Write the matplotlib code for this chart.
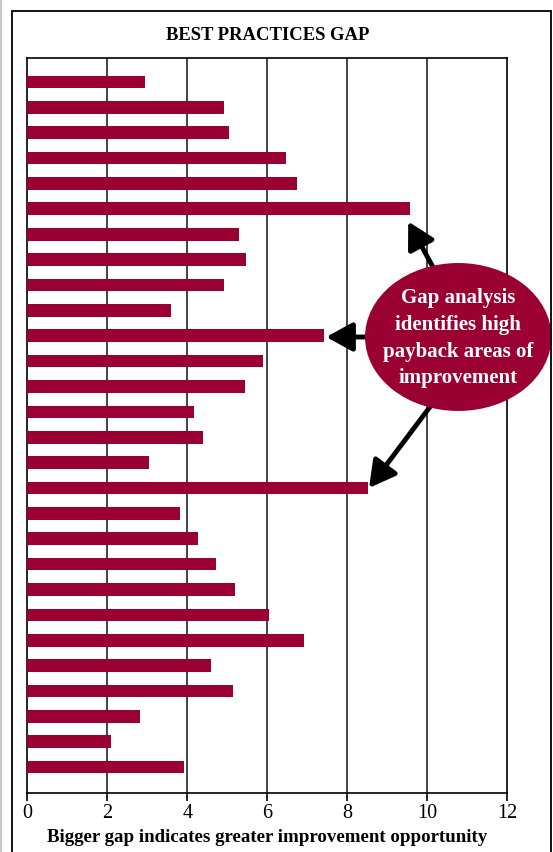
import matplotlib.pyplot as plt
from matplotlib.patches import Ellipse, Rectangle
from matplotlib.lines import Line2D

plt.rcParams['font.family'] = ['Liberation Serif', 'DejaVu Serif']

# gap values, top bar first
gaps = [2.95, 4.91, 5.05, 6.46, 6.73, 9.57, 5.29, 5.46, 4.91, 3.59,
        7.42, 5.88, 5.44, 4.17, 4.39, 3.05, 8.52, 3.81, 4.27, 4.72,
        5.18, 6.03, 6.92, 4.60, 5.13, 2.82, 2.09, 3.92]
xticks = [0, 2, 4, 6, 8, 10, 12]
title = 'BEST PRACTICES GAP'
xlabel = 'Bigger gap indicates greater improvement opportunity'
callout = 'Gap analysis\nidentifies high\npayback areas of\nimprovement'
bar_color = '#9B0032'

fig = plt.figure(figsize=(5.53, 8.52), dpi=100)
W, H = 553, 852

# outer frame of the figure
fig.patches.append(Rectangle((12.4 / W, -0.05), (551 - 12.4) / W, 1.05 - 11.3 / H,
                             transform=fig.transFigure, fill=False,
                             edgecolor='black', lw=1.3))
fig.lines.append(Line2D([1 / W, 1 / W], [0, 1], transform=fig.transFigure,
                        color='#bbbbbb', lw=1.2))

ax = fig.add_axes([27.4 / W, 1 - 793 / H, 480 / W, (793 - 57.6) / H])

idx = list(range(len(gaps)))
ax.barh(idx, gaps, height=0.5, color=bar_color, zorder=3)

ax.set_xlim(0, 12)
ax.set_ylim(len(gaps) - 1 + 1.02, -0.96)
ax.set_xticks(xticks)
ax.set_xticklabels([str(t) for t in xticks], fontsize=14.5)
ax.set_yticks([])
ax.tick_params(axis='x', length=6, width=1.2, pad=2)
for t in xticks[1:-1]:
    ax.axvline(t, color='#222222', lw=1.2, zorder=1)
for s in ax.spines.values():
    s.set_linewidth(1.2)

fig.text(0.4838, 1 - 35 / H, title, ha='center', va='center',
         fontsize=13.4, fontweight='bold')
fig.text(0.4838, 1 - 838 / H, xlabel, ha='center', va='center',
         fontsize=13.6, fontweight='bold')

# callout ellipse with arrows
ell = Ellipse((10.77, 10.05), 4.66, 5.83, facecolor=bar_color,
              edgecolor='none', clip_on=False, zorder=6)
ax.add_patch(ell)
ax.text(10.77, 10.1, callout, ha='center', va='center', color='white',
        fontsize=15, fontweight='bold', linespacing=1.45, zorder=7)

aprops = dict(arrowstyle='-|>,head_length=0.4,head_width=0.22', lw=3.5,
              color='black', mutation_scale=40, shrinkA=0, shrinkB=0)
ax.annotate('', xy=(gaps[5] - 0.05, 5.5), xytext=(10.14, 7.3),
            arrowprops=aprops, zorder=5, annotation_clip=False)
ax.annotate('', xy=(gaps[10] + 0.05, 10.05), xytext=(8.6, 10.05),
            arrowprops=aprops, zorder=5, annotation_clip=False)
ax.annotate('', xy=(gaps[16] + 0.02, 16.0), xytext=(10.09, 12.75),
            arrowprops=aprops, zorder=5, annotation_clip=False)

fig.savefig('out.png', dpi=100)
